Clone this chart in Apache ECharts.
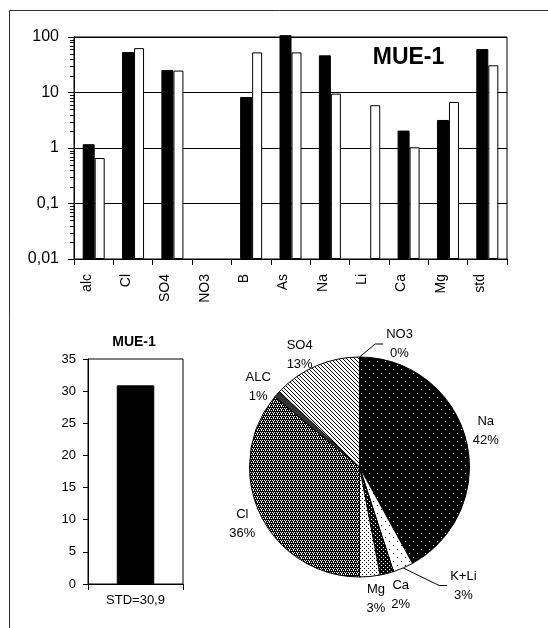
<!DOCTYPE html>
<html><head><meta charset="utf-8">
<script src="https://cdn.jsdelivr.net/npm/echarts@6/dist/echarts.min.js"></script>
<style>html,body{margin:0;padding:0;background:#fff}#c{width:548px;height:628px}</style>
</head><body><div id="c"></div>
<script>
// ---------- data ----------
const categories = ['alc','Cl','SO4','NO3','B','As','Na','Li','Ca','Mg','std'];
const seriesBlack = [1.17, 53.5, 25.5, null, 8.3, 108, 46.7, null, 2.06, 3.2, 60.6];
const seriesWhite = [0.66, 63, 24.8, null, 52.8, 52.8, 9.55, 5.9, 1.03, 6.76, 30.9];
const logTickLabels = ['0,01','0,1','1','10','100'];
const stdCategories = ['STD=30,9'];
const stdValues = [30.9];
const pieNames = ['Na','K+Li','Ca','Mg','Cl','ALC','SO4','NO3'];
const pieValues = [42, 3, 2, 3, 36, 1, 13, 0];

// ---------- styling ----------
const FONT = 'Arial, "Liberation Sans", sans-serif';
const PIE_C = [359.5, 467], PIE_R = 110;
const labelNudge = [[0,-4],[50,-6],[8,-2],[4,0],[3,0],[0,9],[-6,12],[40,9]];
const leaderIdx = [1, 7];

function makePattern(size, bg, fg, pts) {
  const c = document.createElement('canvas'); c.width = size; c.height = size;
  const g = c.getContext('2d'); g.fillStyle = bg; g.fillRect(0, 0, size, size);
  g.fillStyle = fg; pts.forEach(p => g.fillRect(p[0], p[1], 1, 1));
  return { image: c, repeat: 'repeat' };
}
const piePatterns = [
  makePattern(8, '#000', '#fff', [[1,1],[5,5]]),                 // Na
  makePattern(8, '#fff', '#000', [[1,1],[5,5]]),                 // K+Li
  makePattern(4, '#000', '#fff', [[1,1],[3,3]]),                 // Ca
  makePattern(4, '#fff', '#000', [[0,0],[2,2]]),                 // Mg
  makePattern(4, '#000', '#fff', [[0,0],[2,0],[1,2],[3,2],[1,1]]), // Cl
  '#333',                                                        // ALC
  makePattern(4, '#fff', '#000', [[0,0],[1,1],[2,2],[3,3]]),     // SO4
  '#fff'                                                         // NO3
];

const total = pieValues.reduce((a, b) => a + b, 0);
let cum = 0;
const mids = pieValues.map(v => { const m = (cum + v / 2) / total * 2 * Math.PI; cum += v; return m; });

const chart = echarts.init(document.getElementById('c'), null, { renderer: 'canvas' });

const baseGraphic = [
  { type: 'rect', id: 'frame', shape: { x: 9.5, y: 10.5, width: 700, height: 700 },
    style: { fill: 'none', stroke: '#333', lineWidth: 1 }, silent: true, z: -1 },
  { type: 'text', id: 't1', x: 408.5, y: 58,
    style: { text: 'MUE-1', font: 'bold 23px ' + FONT, fill: '#000', align: 'center', verticalAlign: 'middle' } },
  { type: 'text', id: 't2', x: 134, y: 342,
    style: { text: 'MUE-1', font: 'bold 14px ' + FONT, fill: '#000', align: 'center', verticalAlign: 'middle' } }
];

const option = {
  animation: false,
  backgroundColor: '#fff',
  textStyle: { fontFamily: FONT, color: '#000' },
  grid: [
    { left: 74, top: 37, width: 433, height: 222, show: true, borderColor: '#000', borderWidth: 1, backgroundColor: 'transparent' },
    { left: 88, top: 359, width: 95, height: 225, show: true, borderColor: '#000', borderWidth: 1, backgroundColor: 'transparent' }
  ],
  xAxis: [
    { type: 'category', gridIndex: 0, data: categories,
      axisLine: { lineStyle: { color: '#000' } },
      axisTick: { show: true, length: 6, interval: 0, lineStyle: { color: '#000' } },
      axisLabel: { rotate: 90, interval: 0, fontSize: 14, color: '#000', margin: 15, fontFamily: FONT, verticalAlign: 'bottom' },
      splitLine: { show: false } },
    { type: 'category', gridIndex: 1, data: stdCategories,
      axisLine: { lineStyle: { color: '#000' } },
      axisTick: { show: true, length: 6, interval: 0, lineStyle: { color: '#000' } },
      axisLabel: { fontSize: 13, color: '#000', margin: 10, fontFamily: FONT },
      splitLine: { show: false } }
  ],
  yAxis: [
    { type: 'log', gridIndex: 0, logBase: 10, min: 0.01, max: 100, startValue: 0.01,
      axisLine: { show: true, lineStyle: { color: '#000' } },
      axisTick: { show: true, length: 6, lineStyle: { color: '#000' } },
      axisLabel: { fontSize: 16, color: '#000', margin: 15, fontFamily: FONT,
        formatter: v => logTickLabels[Math.round(Math.log10(v)) + 2] },
      splitLine: { show: true, lineStyle: { color: '#000', width: 1 } } },
    { type: 'value', gridIndex: 1, min: 0, max: 35, interval: 5,
      axisLine: { show: true, lineStyle: { color: '#000' } },
      axisTick: { show: true, length: 5, lineStyle: { color: '#000' } },
      axisLabel: { fontSize: 13, color: '#000', margin: 12, fontFamily: FONT },
      splitLine: { show: false } }
  ],
  series: [
    { type: 'bar', name: 'ref', xAxisIndex: 0, yAxisIndex: 0, data: seriesBlack, barWidth: 12, barGap: '0%', clip: false,
      itemStyle: { color: '#000', borderColor: '#000', borderWidth: 1 } },
    { type: 'bar', name: 'MUE-1', xAxisIndex: 0, yAxisIndex: 0, data: seriesWhite, barWidth: 10, barGap: '0%', clip: false,
      itemStyle: { color: '#fff', borderColor: '#000', borderWidth: 1 } },
    { type: 'bar', name: 'STD', xAxisIndex: 1, yAxisIndex: 1, data: stdValues, barWidth: 37.5,
      itemStyle: { color: '#000', borderColor: '#000', borderWidth: 1 } },
    { type: 'pie', center: PIE_C, radius: PIE_R, startAngle: 90, clockwise: true, avoidLabelOverlap: false,
      itemStyle: { borderColor: '#000', borderWidth: 1 },
      label: { show: true, position: 'outside', formatter: '{b}\n{d}%', fontSize: 13, lineHeight: 19, color: '#000', fontFamily: FONT },
      labelLine: { show: false, lineStyle: { color: '#000', width: 1 } },
      data: pieNames.map((n, i) => ({
        name: n, value: pieValues[i],
        itemStyle: { color: piePatterns[i] },
        labelLine: { show: leaderIdx.indexOf(i) >= 0, lineStyle: { color: '#000', width: 1 } }
      })),
      labelLayout: function (p) {
        const i = p.dataIndex, a = mids[i], s = Math.sin(a), c = Math.cos(a);
        const w = p.labelRect.width, h = p.labelRect.height;
        const d = PIE_R + 3 + Math.abs(s) * w / 2 + Math.abs(c) * h / 2;
        const x = PIE_C[0] + s * d + labelNudge[i][0];
        const y = PIE_C[1] - c * d + labelNudge[i][1];
        const out = { x: x, y: y, align: 'center', verticalAlign: 'middle' };
        if (leaderIdx.indexOf(i) >= 0) {
          const ex = PIE_C[0] + s * PIE_R, ey = PIE_C[1] - c * PIE_R;
          const lx = x - w / 2 - 3;
          out.labelLinePoints = [[ex, ey], [lx - 8, y], [lx, y]];
        }
        return out;
      }
    }
  ],
  graphic: { elements: baseGraphic }
};
chart.setOption(option);

// log-scale minor ticks (2..9 in each decade), positioned through the axis scale
const minor = [];
const axX = 74;
[0.01, 0.1, 1, 10].forEach(dec => {
  for (let k = 2; k <= 9; k++) {
    const py = chart.convertToPixel({ yAxisIndex: 0 }, dec * k);
    if (!isFinite(py)) continue;
    const y = Math.round(py) + 0.5;
    minor.push({ type: 'line', id: 'mt' + Math.round(dec * k * 100), shape: { x1: axX - 4, y1: y, x2: axX, y2: y },
      style: { stroke: '#000', lineWidth: 1 }, silent: true, z: 10 });
  }
});
chart.setOption({ graphic: { elements: baseGraphic.concat(minor) } });
</script></body></html>
